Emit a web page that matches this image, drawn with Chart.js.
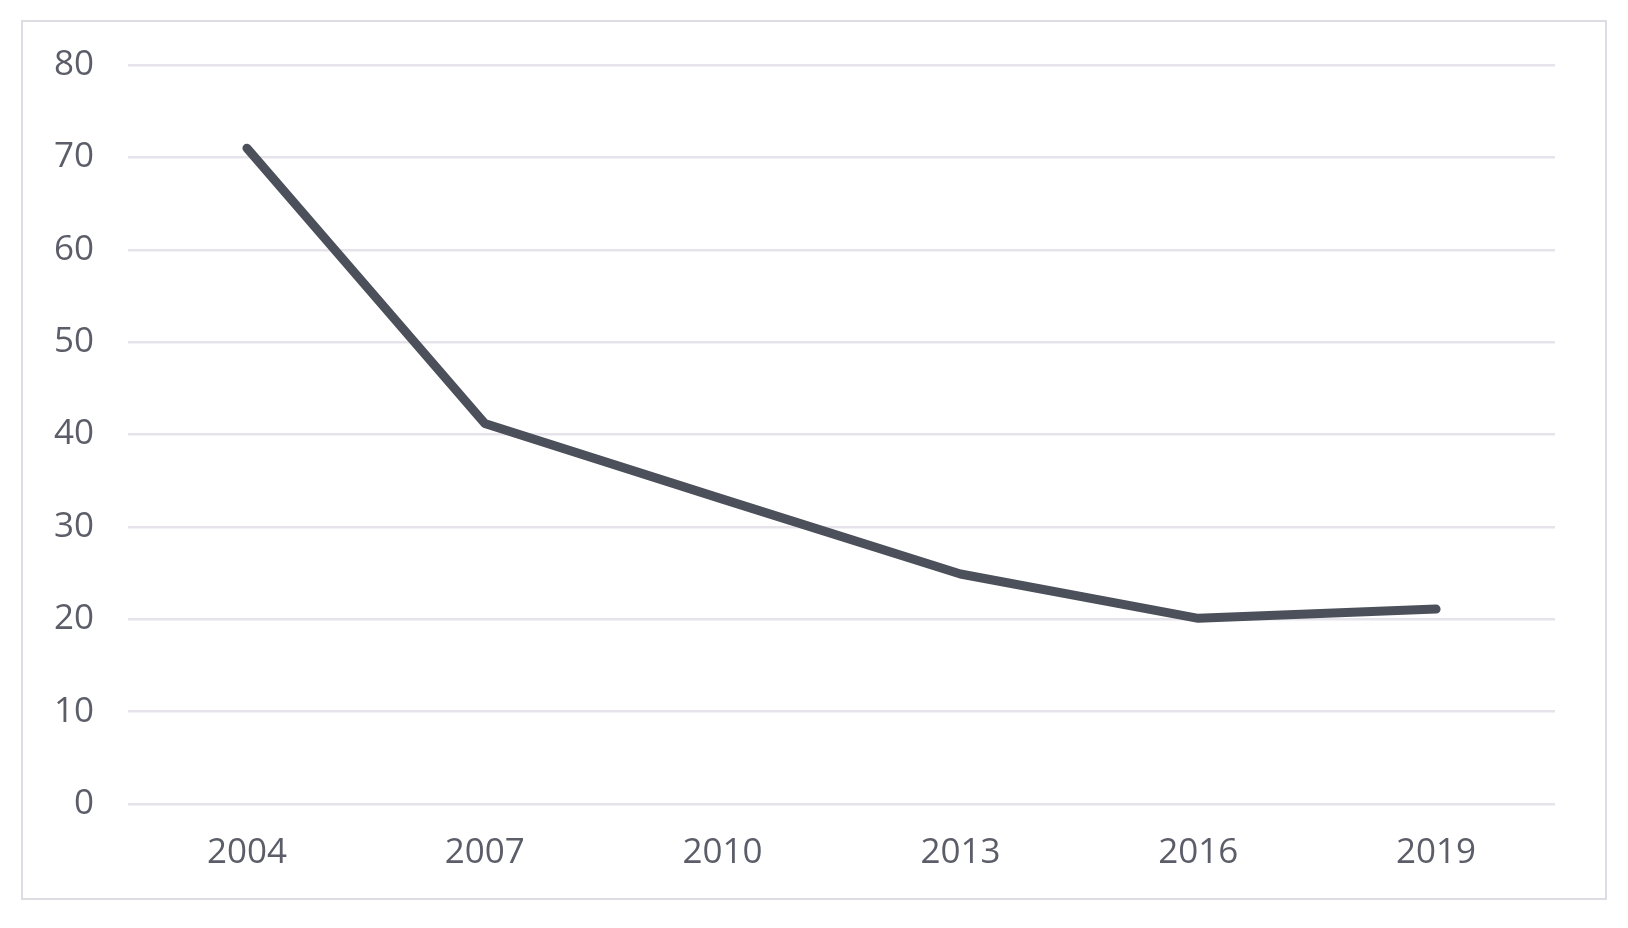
<!DOCTYPE html>
<html>
<head>
<meta charset="utf-8">
<style>
  html, body { margin: 0; padding: 0; background: #ffffff; }
  #wrap { position: relative; width: 1628px; height: 928px; }
  #frame { position: absolute; left: 21px; top: 20px; width: 1582px; height: 876px;
           border: 2px solid #dedce3; pointer-events: none; }
  canvas { position: absolute; left: 0; top: 0; }
</style>
<script src="https://cdn.jsdelivr.net/npm/chart.js"></script>
</head>
<body>
<div id="wrap">
  <canvas id="c" width="1628" height="928"></canvas>
  <div id="frame"></div>
</div>
<script>
const categories = ["2004", "2007", "2010", "2013", "2016", "2019"];
const seriesValues = [71, 41.2, 33, 24.9, 20.1, 21.1];
const yTicks = { min: 0, max: 80, step: 10 };

const textColor = '#5b5d68';
const font = { family: "'Open Sans', sans-serif", size: 35 };

new Chart(document.getElementById('c'), {
  type: 'line',
  data: {
    labels: categories,
    datasets: [{
      data: seriesValues,
      borderColor: '#4b505b',
      borderWidth: 9,
      tension: 0,
      pointRadius: 0,
      pointHoverRadius: 0,
      borderCapStyle: 'round',
      borderJoinStyle: 'round',
      fill: false
    }]
  },
  options: {
    responsive: false,
    animation: false,
    devicePixelRatio: 1,
    layout: { padding: { left: 20, right: 73, top: 65, bottom: 20 } },
    plugins: { legend: { display: false }, tooltip: { enabled: false } },
    scales: {
      x: {
        offset: true,
        grid: { display: false, drawTicks: false },
        border: { display: false },
        ticks: { color: textColor, font: font, padding: 28, maxRotation: 0 },
        afterFit: (s) => { s.height = 928 - 804 - 20; }
      },
      y: {
        min: yTicks.min,
        max: yTicks.max,
        grid: { color: '#e6e3eb', lineWidth: 2.5, drawTicks: false },
        border: { display: false },
        ticks: { stepSize: yTicks.step, color: textColor, font: font, padding: 34 },
        afterFit: (s) => { s.width = 128 - 20; }
      }
    }
  }
});
</script>
</body>
</html>
